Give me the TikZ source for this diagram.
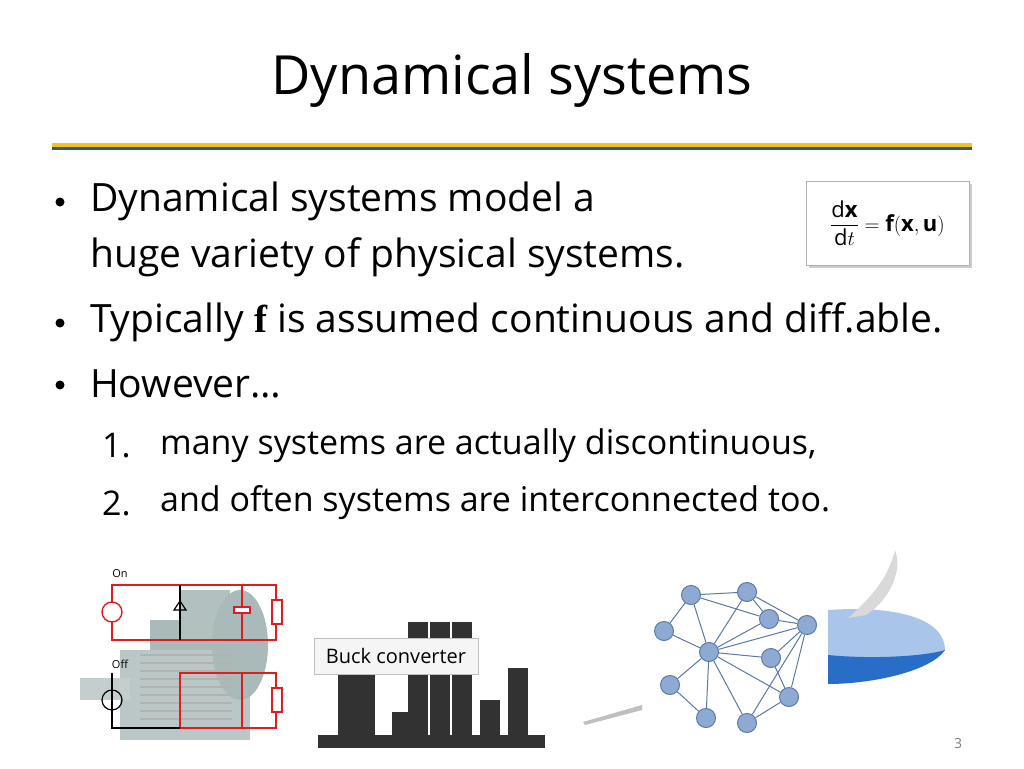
\documentclass[tikz,border=0pt]{standalone}
\usepackage{fontspec}
\usepackage{amsmath}
\setmainfont{Open Sans}
\newfontfamily\eqfont{Liberation Serif}
\usetikzlibrary{positioning}
\definecolor{rulegold}{RGB}{240,196,30}
\definecolor{ruleblue}{RGB}{50,90,130}
\definecolor{netfill}{RGB}{143,170,210}
\definecolor{netline}{RGB}{90,120,170}
\definecolor{ckt}{RGB}{220,30,30}
\definecolor{motor}{RGB}{170,185,185}
\definecolor{plant}{RGB}{50,50,50}
\definecolor{jetblue}{RGB}{40,110,200}
\tikzset{
  netnode/.style={circle,draw=netline,fill=netfill,minimum size=19pt,inner sep=0pt,line width=1pt},
  netedge/.style={draw=netline,line width=1pt},
  wire/.style={draw=ckt,line width=1.4pt},
  bullettext/.style={anchor=west,inner sep=0pt,font=\fontsize{39}{44}\selectfont},
  itemtext/.style={anchor=west,inner sep=0pt,font=\fontsize{34}{40}\selectfont},
}
\begin{document}
\begin{tikzpicture}[x=1pt,y=-1pt]
\useasboundingbox (0,0) rectangle (1024,768);
\fill[white] (0,0) rectangle (1024,768);

% title and rule
\node (title) at (512,80) {\fontsize{54}{60}\selectfont Dynamical systems};
\fill[rulegold] (52,143) rectangle (972,147);
\fill[ruleblue] (52,147) rectangle (972,150);

% bullets
\foreach \y in {202,323,385}
  \fill (60,\y) circle (4.5);
\node[bullettext] (b1) at (90,201) {Dynamical systems model a};
\node[bullettext] (b1b) at (90,257) {huge variety of physical systems.};
\node[bullettext] (b2) at (90,322) {Typically {\eqfont\bfseries f} is assumed continuous and diff.able.};
\node[bullettext] (b3) at (90,384) {However\dots};
\node[itemtext] (i1n) at (102,446) {1.};
\node[itemtext] (i1) at (160,446) {many systems are actually discontinuous,};
\node[itemtext] (i2n) at (102,503) {2.};
\node[itemtext] (i2) at (160,503) {and often systems are interconnected too.};

% equation box
\fill[gray!40] (809,184) rectangle (972,268);
\node[draw=gray!60,fill=white,minimum width=163pt,minimum height=84pt,font=\eqfont\fontsize{22}{26}\selectfont] (eq) at (887.5,223)
  {$\dfrac{\mathrm{d}\mathbf{x}}{\mathrm{d}t}=\mathbf{f}(\mathbf{x},\mathbf{u})$};

% motor picture
\fill[motor] (150,620) rectangle (240,690);
\fill[motor!80] (120,650) rectangle (250,740);
\fill[motor!90] (180,590) rectangle (230,640);
\fill[motor] (240,645) ellipse (28 and 55);
\fill[motor!70] (80,678) rectangle (130,700);
\foreach \i in {0,...,8}
  \draw[gray!60,line width=1.5pt] (140,655+\i*8) -- (232,655+\i*8);
% circuit on
\node[font=\fontsize{11}{13}\selectfont] (on) at (120,574) {On};
\coordinate (on1) at (112,585); \coordinate (on2) at (276,585);
\coordinate (on3) at (276,640); \coordinate (on4) at (112,640);
\draw[wire] (on1) -- (on2) -- (on3) -- (on4) -- cycle;
\draw[wire,fill=white] (112,612) circle (10);
\draw[black,line width=1.2pt] (180,585) -- (180,640);
\draw[black,line width=1.2pt] (174,610) -- (186,610) -- (180,601) -- cycle;
\draw[wire] (242,585) -- (242,640);
\draw[wire,fill=white] (234,607) rectangle (250,613);
\draw[wire,fill=white] (272,600) rectangle (282,624);
% circuit off
\node[font=\fontsize{11}{13}\selectfont] (off) at (120,664) {Off};
\coordinate (of1) at (180,673); \coordinate (of2) at (276,673);
\coordinate (of3) at (276,728); \coordinate (of4) at (180,728);
\draw[wire] (of1) -- (of2) -- (of3) -- (of4) -- cycle;
\draw[black,line width=1.2pt] (112,673) -- (112,728) -- (180,728);
\draw[black,line width=1.2pt] (112,700) circle (10);
\draw[wire] (242,673) -- (242,728);
\draw[wire,fill=white] (272,688) rectangle (282,712);

% refinery silhouette
\fill[plant] (318,735) rectangle (545,748);
\foreach \x/\h in {355/640,418/622,440/622,462/622,518/668}
  \fill[plant] (\x-10,\h) rectangle (\x+10,735);
\fill[plant] (338,670) rectangle (375,735);
\fill[plant] (392,712) rectangle (412,735);
\fill[plant] (480,700) rectangle (500,735);
\node[draw=gray!50,fill=gray!8,minimum width=164pt,minimum height=36pt,font=\fontsize{20}{24}\selectfont] (buck) at (396,656) {Buck converter};

% airplane
\fill[jetblue!40] (828,610) .. controls (900,605) and (945,620) .. (945,650) .. controls (930,670) and (870,680) .. (828,680) -- cycle;
\fill[jetblue] (828,655) .. controls (880,660) and (930,655) .. (945,650) .. controls (930,672) and (870,684) .. (828,684) -- cycle;
\fill[gray!30] (848,618) .. controls (880,590) and (890,570) .. (895,550) .. controls (903,570) and (890,600) .. (866,615) -- cycle;
\fill[gray!50] (583,722) -- (642,705) -- (642,710) -- (585,725) -- cycle;

% network
\node[netnode] (na) at (691,595) {};
\node[netnode] (nb) at (747,592) {};
\node[netnode] (nc) at (664,631) {};
\node[netnode] (nd) at (769,619) {};
\node[netnode] (ne) at (807,625) {};
\node[netnode] (nf) at (709,652) {};
\node[netnode] (ng) at (771,658) {};
\node[netnode] (nh) at (670,685) {};
\node[netnode] (ni) at (789,697) {};
\node[netnode] (nj) at (706,718) {};
\node[netnode] (nk) at (747,723) {};
\foreach \u/\v in {na/nb,na/nc,na/nf,na/nd,nb/nd,nb/ne,nb/nf,nd/ne,nc/nf,nf/ne,nf/nd,nf/ng,nf/nh,nf/nj,nf/nk,nf/ni,ne/ng,ne/nk,ne/ni,ng/ni,nh/nj,nk/ni}
  \draw[netedge] (\u) -- (\v);

% page number
\node[text=gray,font=\fontsize{14}{16}\selectfont] (page) at (958,743) {3};
\end{tikzpicture}
\end{document}
